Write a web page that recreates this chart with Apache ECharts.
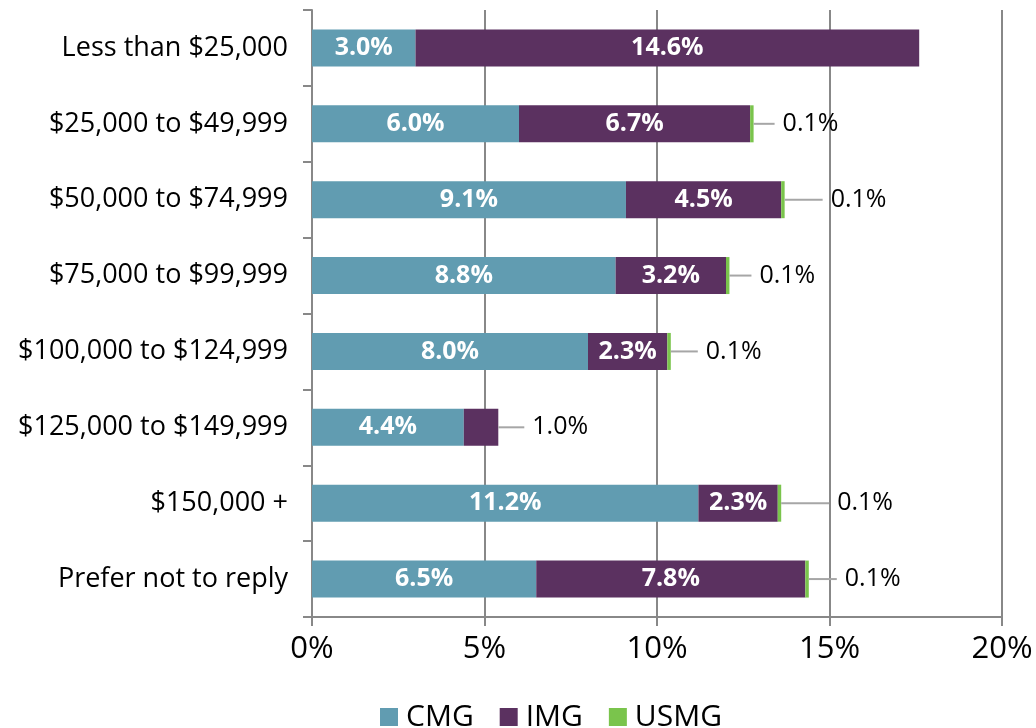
<!DOCTYPE html>
<html>
<head>
<meta charset="utf-8">
<script src="https://cdn.jsdelivr.net/npm/echarts@6/dist/echarts.min.js"></script>
<style>
  html, body { margin: 0; padding: 0; background: #fff; }
  #chart { width: 1036px; height: 728px; }
</style>
</head>
<body>
<div id="chart"></div>
<script>
// 收入区间
const categories = [
  'Less than $25,000',
  '$25,000 to $49,999',
  '$50,000 to $74,999',
  '$75,000 to $99,999',
  '$100,000 to $124,999',
  '$125,000 to $149,999',
  '$150,000 +',
  'Prefer not to reply',
]
const cmg = [3.0, 6.0, 9.1, 8.8, 8.0, 4.4, 11.2, 6.5]
const img = [14.6, 6.7, 4.5, 3.2, 2.3, 1.0, 2.3, 7.8]
const usmg = [null, 0.1, 0.1, 0.1, 0.1, null, 0.1, 0.1]
const xTicks = [0, 5, 10, 15, 20]

// 外部标签引线长度（像素）
const leaderLen = [0, 21, 38, 22, 27, 26, 48, 28]

const FONT = '"Open Sans", sans-serif'
const colors = ['#619cb1', '#5b3160', '#7ac44c']

const pct = (v) => v.toFixed(1) + '%'

// 带引线的外部标签
function outsideLabel(i) {
  return {
    show: true,
    position: 'right',
    distance: 0,
    formatter: (p) => '{line|}{v|' + pct(p.value) + '}',
    rich: {
      line: { width: leaderLen[i], height: 2, backgroundColor: '#a6a6a6' },
      v: { fontSize: 25, fontWeight: 'normal', color: '#000', fontFamily: FONT, padding: [0, 0, 0, 8] },
    },
  }
}

const insideLabel = {
  show: true,
  position: 'inside',
  color: '#fff',
  fontWeight: 'bold',
  fontSize: 25,
  fontFamily: FONT,
  formatter: (p) => pct(p.value),
}

const chart = echarts.init(document.getElementById('chart'))

chart.setOption({
  animation: false,
  color: colors,
  grid: { left: 312, right: 34, top: 10, bottom: 111, containLabel: false },
  legend: {
    data: ['CMG', 'IMG', 'USMG'],
    bottom: -9,
    left: 375,
    icon: 'rect',
    itemWidth: 18,
    itemHeight: 18,
    itemGap: 26,
    textStyle: { fontSize: 30, color: '#000', fontFamily: FONT, padding: [0, 0, 0, 3] },
  },
  xAxis: {
    type: 'value',
    min: 0,
    max: 20,
    interval: 5,
    axisLine: { show: true, lineStyle: { color: '#888', width: 2 } },
    axisTick: { show: true, length: 9, lineStyle: { color: '#888', width: 2 } },
    splitLine: { show: true, lineStyle: { color: '#888', width: 2 } },
    axisLabel: {
      color: '#000',
      fontSize: 31,
      fontFamily: FONT,
      margin: 17,
      formatter: (v) => (xTicks.includes(v) ? v + '%' : ''),
    },
  },
  yAxis: {
    type: 'category',
    data: categories,
    inverse: true,
    axisLine: { show: true, lineStyle: { color: '#888', width: 2 } },
    axisTick: { show: true, length: 9, lineStyle: { color: '#888', width: 2 } },
    axisLabel: { color: '#000', fontSize: 27, fontFamily: FONT, margin: 24 },
  },
  series: [
    {
      name: 'CMG',
      type: 'bar',
      stack: 'total',
      barWidth: 37,
      label: insideLabel,
      data: cmg,
    },
    {
      name: 'IMG',
      type: 'bar',
      stack: 'total',
      barWidth: 37,
      label: insideLabel,
      data: img.map((v, i) => (v < 2 ? { value: v, label: outsideLabel(i) } : v)),
    },
    {
      name: 'USMG',
      type: 'bar',
      stack: 'total',
      barWidth: 37,
      data: usmg.map((v, i) => (v == null ? '-' : { value: v, label: outsideLabel(i) })),
    },
  ],
})
</script>
</body>
</html>
